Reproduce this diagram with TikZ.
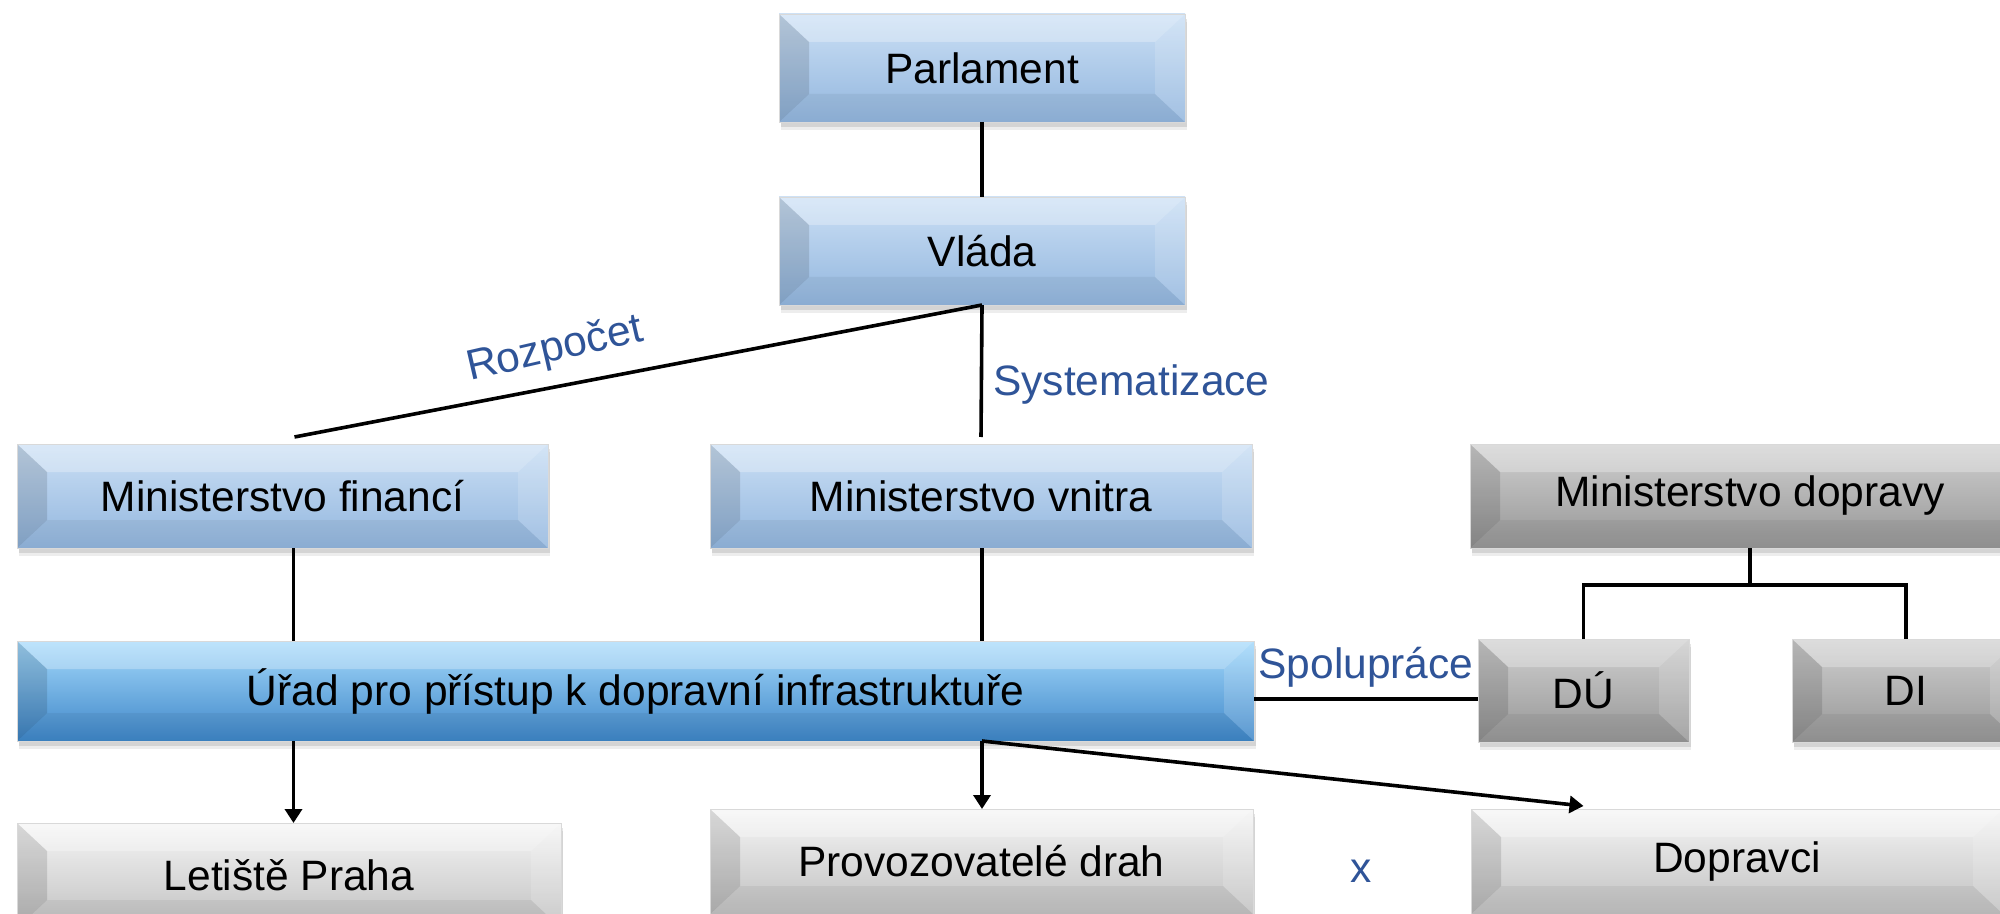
\documentclass[tikz,border=0pt]{standalone}
\usepackage{fontspec}
\setmainfont{Liberation Sans}
\usetikzlibrary{calc,arrows.meta}
\definecolor{lblue}{RGB}{47,84,152}
\begin{document}
\begin{tikzpicture}[x=0.5pt,y=-0.5pt,
  txt/.style={font=\fontsize{21.25}{25}\selectfont},
  facets/.style={path picture={
    \path (path picture bounding box.north west) coordinate (pNW)
          (path picture bounding box.north east) coordinate (pNE)
          (path picture bounding box.south west) coordinate (pSW)
          (path picture bounding box.south east) coordinate (pSE);
    \fill[white,opacity=0.28] (pNW) -- (pNE) -- ([shift={(-15pt,-14pt)}]pNE) -- ([shift={(15pt,-14pt)}]pNW) -- cycle;
    \fill[black,opacity=0.05] (pSW) -- (pSE) -- ([shift={(-15pt,14pt)}]pSE) -- ([shift={(15pt,14pt)}]pSW) -- cycle;
    \fill[black,opacity=0.12] (pNW) -- ([shift={(15pt,-14pt)}]pNW) -- ([shift={(15pt,14pt)}]pSW) -- (pSW) -- cycle;
    \fill[white,opacity=0.15] (pNE) -- ([shift={(-15pt,-14pt)}]pNE) -- ([shift={(-15pt,14pt)}]pSE) -- (pSE) -- cycle;
  }},
  shadowed/.style={
    preaction={fill=black,opacity=0.10,transform canvas={xshift=0.8pt,yshift=-2.5pt}},
    preaction={fill=black,opacity=0.07,transform canvas={xshift=1.2pt,yshift=-4pt}}},
  bx/.style 2 args={minimum width={0.5pt*#1}, minimum height={0.5pt*#2},
    inner sep=0pt, outer sep=0pt, txt, text=black, draw=black!15, line width=0.4pt,
    shadowed, facets},
  bluebox/.style={top color={rgb,255:red,204;green,224;blue,245}, bottom color={rgb,255:red,146;green,182;blue,222}},
  urbox/.style={top color={rgb,255:red,165;green,218;blue,252}, middle color={rgb,255:red,105;green,172;blue,232}, bottom color={rgb,255:red,62;green,134;blue,200}},
  graybox/.style={top color={rgb,255:red,208;green,208;blue,208}, bottom color={rgb,255:red,150;green,150;blue,150}},
  lightbox/.style={top color={rgb,255:red,246;green,246;blue,246}, bottom color={rgb,255:red,192;green,192;blue,192}},
  conn/.style={draw=black, line width=1.8pt},
  arr/.style={conn, -{Triangle[length=7pt,width=8.5pt]}},
  lbl/.style={txt, text=lblue, inner sep=0pt}
]
\useasboundingbox (0,0) rectangle (2000,914);
\fill[white] (0,0) rectangle (2000,914);
\clip (0,0) rectangle (2000,914);

% nodes
\node[bx={406}{108}, bluebox] (par) at (982,68) {Parlament};
\node[bx={406}{108}, bluebox] (vla) at (982,251) {Vláda};
\node[bx={531}{104}, bluebox] (mf) at (282.5,496) {Ministerstvo financí};
\node[bx={542}{104}, bluebox] (mv) at (981,496) {Ministerstvo vnitra};
\node[bx={560}{104}, graybox] (md) at (1750,496) {Ministerstvo dopravy};
\node[bx={1237}{100}, urbox] (ur) at (635.5,691) {Úřad pro přístup k dopravní infrastruktuře};
\node[bx={211}{103}, graybox] (du) at (1583.5,690.5) {DÚ};
\node[bx={228}{103}, graybox] (di) at (1906,690.5) {DI};
\node[bx={544}{105}, lightbox] (let) at (289,875.5) {Letiště Praha};
\node[bx={543}{105}, lightbox] (prov) at (981.5,861.5) {Provozovatelé drah};
\node[bx={532}{105}, lightbox] (dop) at (1737,861.5) {Dopravci};

% helper coordinates
\coordinate (cL) at (293.5,0);
\coordinate (cM) at (982,0);
\coordinate (jn) at (1750,585);

% connectors
\draw[conn] (par.south) -- (vla.north);
\draw[conn] (vla.south) -- ([yshift=3.5pt]mv.north)
  node[lbl, pos=0.6, anchor=west, xshift=5pt] {Systematizace};
\draw[conn] (vla.south) -- ([xshift=6pt,yshift=3.5pt]mf.north);
\node[lbl, rotate=13] (rz) at (555,350) {Rozpočet};
\draw[conn] (mf.south -| cL) -- (ur.north -| cL);
\draw[conn] (mv.south -| cM) -- (ur.north -| cM);
\draw[conn] (md.south) -- (jn);
\draw[conn] (du.north) |- (jn) -| (di.north);
\draw[conn] ([yshift=-4pt]ur.east) -- ([yshift=-4pt]ur.east -| du.west)
  node[lbl, midway, above=5pt] {Spolupráce};
\draw[arr] (ur.south -| cL) -- (let.north -| cL);
\draw[arr] (ur.south -| cM) -- (prov.north -| cM);
\draw[arr] (ur.south -| cM) -- ([yshift=1.5pt]dop.north -| du.south);
\node[lbl] (xx) at (1361,871) {x};
\end{tikzpicture}
\end{document}
